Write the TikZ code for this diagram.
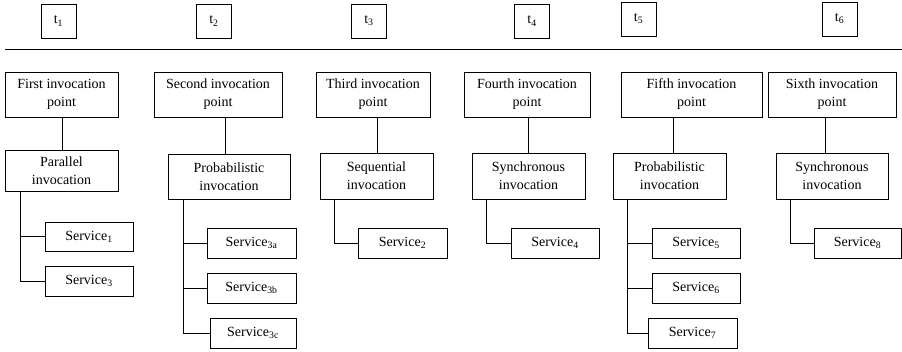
\documentclass[tikz,border=0pt]{standalone}
\usepackage{fontspec}
\setmainfont{Liberation Serif}
\begin{document}
\begin{tikzpicture}[x=1pt,y=-1pt,
  every node/.style={font=\fontsize{14}{18}\selectfont},
  box/.style={draw,line width=0.9pt,inner sep=0pt,align=center,minimum height=#1},
  box/.default=45,
  tbox/.style={draw,line width=0.9pt,inner sep=0pt,minimum width=35,minimum height=34},
  link/.style={line width=0.9pt}]
\useasboundingbox (0,0) rectangle (902,351);
% time labels
\node[tbox] (t1) at (58.5,21) {t\textsubscript{1}};
\node[tbox] (t2) at (214,21) {t\textsubscript{2}};
\node[tbox] (t3) at (369,21) {t\textsubscript{3}};
\node[tbox] (t4) at (532,21) {t\textsubscript{4}};
\node[tbox] (t5) at (638.5,19) {t\textsubscript{5}};
\node[tbox] (t6) at (839.5,19) {t\textsubscript{6}};
\coordinate (hl) at (5,49);
\coordinate (hr) at (902,49);
\draw[link] (hl) -- (hr);
% invocation points
\node[box,minimum width=113] (p1) at (61.5,94.5) {First invocation\\point};
\node[box,minimum width=128] (p2) at (218,94.5) {Second invocation\\point};
\node[box,minimum width=114] (p3) at (373,94.5) {Third invocation\\point};
\node[box,minimum width=126] (p4) at (527,94.5) {Fourth invocation\\point};
\node[box,minimum width=141] (p5) at (691.5,94.5) {Fifth invocation\\point};
\node[box,minimum width=128] (p6) at (832,94.5) {Sixth invocation\\point};
% invocation types
\node[box=41,minimum width=113] (q1) at (61.5,170.5) {Parallel\\invocation};
\node[box,minimum width=122] (q2) at (229,176.5) {Probabilistic\\invocation};
\node[box=46,minimum width=113] (q3) at (376.5,176) {Sequential\\invocation};
\node[box=46,minimum width=113] (q4) at (528.5,176) {Synchronous\\invocation};
\node[box=46,minimum width=113] (q5) at (669.5,176) {Probabilistic\\invocation};
\node[box=46,minimum width=112] (q6) at (832,176) {Synchronous\\invocation};
% services
\node[box=29,minimum width=88] (s1) at (89,236.5) {Service\textsubscript{1}};
\node[box=30,minimum width=88] (s3) at (89,281) {Service\textsubscript{3}};
\node[box=30,minimum width=89] (s3a) at (251.5,243) {Service\textsubscript{3a}};
\node[box=30,minimum width=89] (s3b) at (251.5,288) {Service\textsubscript{3b}};
\node[box=30,minimum width=86] (s3c) at (253,333) {Service\textsubscript{3c}};
\node[box=30,minimum width=89] (s2) at (402.5,243) {Service\textsubscript{2}};
\node[box=30,minimum width=88] (s4) at (555,243) {Service\textsubscript{4}};
\node[box=30,minimum width=88] (s5) at (696,243) {Service\textsubscript{5}};
\node[box=30,minimum width=88] (s6) at (696,288) {Service\textsubscript{6}};
\node[box=30,minimum width=89] (s7) at (692.5,333) {Service\textsubscript{7}};
\node[box=30,minimum width=87] (s8) at (857.5,243) {Service\textsubscript{8}};
% connector x positions
\coordinate (c1) at (62,0);  \coordinate (v1) at (20,0);
\coordinate (c2) at (225,0); \coordinate (v2) at (183,0);
\coordinate (c3) at (377,0); \coordinate (v3) at (334,0);
\coordinate (c4) at (528,0); \coordinate (v4) at (486,0);
\coordinate (c5) at (673,0); \coordinate (v5) at (627,0);
\coordinate (c6) at (825,0); \coordinate (v6) at (790,0);
% top links
\draw[link] (p1.south -| c1) -- (q1.north -| c1);
\draw[link] (p2.south -| c2) -- (q2.north -| c2);
\draw[link] (p3.south -| c3) -- (q3.north -| c3);
\draw[link] (p4.south -| c4) -- (q4.north -| c4);
\draw[link] (p5.south -| c5) -- (q5.north -| c5);
\draw[link] (p6.south -| c6) -- (q6.north -| c6);
% tree links
\draw[link] (q1.south -| v1) |- (s3.west);
\draw[link] (q1.south -| v1) |- (s1.west);
\draw[link] (q2.south -| v2) |- (s3c.west);
\draw[link] (q2.south -| v2) |- (s3a.west);
\draw[link] (q2.south -| v2) |- (s3b.west);
\draw[link] (q3.south -| v3) |- (s2.west);
\draw[link] (q4.south -| v4) |- (s4.west);
\draw[link] (q5.south -| v5) |- (s7.west);
\draw[link] (q5.south -| v5) |- (s5.west);
\draw[link] (q5.south -| v5) |- (s6.west);
\draw[link] (q6.south -| v6) |- (s8.west);
\end{tikzpicture}
\end{document}
